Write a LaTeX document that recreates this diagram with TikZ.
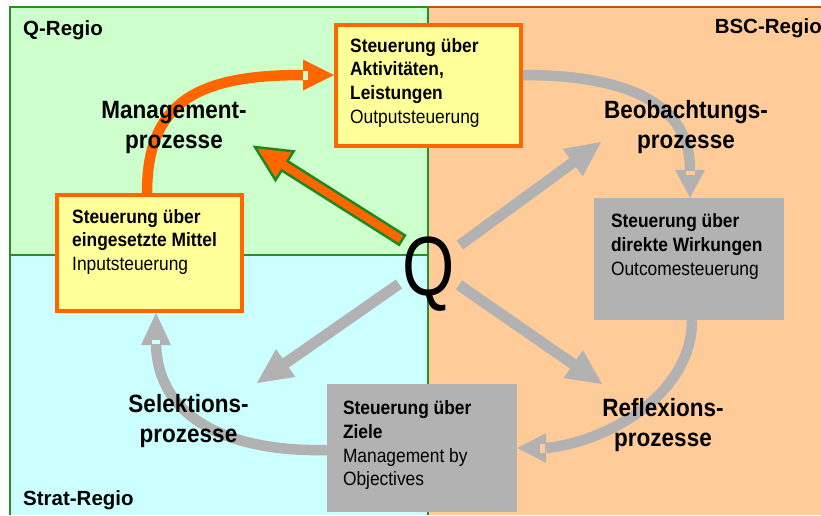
\documentclass[tikz,border=0pt]{standalone}
\usepackage{fontspec}
\setmainfont{Liberation Sans}
\newfontfamily\narrowsans[FakeStretch=0.9]{Liberation Sans}
\newfontfamily\bigqfont[FakeStretch=0.8]{Liberation Sans}
\usetikzlibrary{calc}

\definecolor{regiongreen}{HTML}{CCFFCC}
\definecolor{regioncyan}{HTML}{CCFFFF}
\definecolor{regionorange}{HTML}{FFCC99}
\definecolor{framegreen}{HTML}{2A8C2A}
\definecolor{framebrown}{HTML}{B4561E}
\definecolor{boxyellow}{HTML}{FFFF99}
\definecolor{boxorange}{HTML}{FF6600}
\definecolor{softgray}{HTML}{B2B2B2}
\definecolor{arrowgreen}{HTML}{1E8A1E}

% straight block arrow: shaft half width 5.5, head 35 long and 34 wide
\newcommand\widearrow[3][]{%
  \coordinate (wa-base) at ($(#3)!35pt!(#2)$);
  \path[#1] ($(#2)!5.5pt!90:(#3)$) -- ($(wa-base)!5.5pt!90:(#3)$)
    -- ($(wa-base)!17pt!90:(#3)$) -- (#3) -- ($(wa-base)!17pt!-90:(#3)$)
    -- ($(wa-base)!5.5pt!-90:(#3)$) -- ($(#2)!5.5pt!-90:(#3)$) -- cycle;}

\tikzset{
  frameline/.style={line width=1.5pt},
  reglabel/.style={font=\bfseries\fontsize{20.5}{24}\selectfont, inner sep=0pt},
  ybox/.style={draw=boxorange, fill=boxyellow, line width=4pt, inner sep=0pt},
  gbox/.style={fill=softgray, inner sep=0pt},
  boxtext/.style={font=\narrowsans\fontsize{19.3}{23.7}\selectfont, inner sep=0pt, anchor=base west},
  proclabel/.style={font=\narrowsans\bfseries\fontsize{25}{30.5}\selectfont, inner sep=0pt, anchor=base},
  bendshaft/.style={line width=10.5pt},
}

\begin{document}
\begin{tikzpicture}[x=1pt,y=-1pt]
\useasboundingbox (0,0) rectangle (821,515);
\fill[white] (0,0) rectangle (821,515);

% the three regions
\fill[regiongreen] (10,7) rectangle (428,255);
\fill[regioncyan] (10,255) rectangle (428,515);
\fill[regionorange] (428,7) rectangle (821,515);
\draw[framegreen, frameline] (10,515) -- (10,7) -- (428,7);
\draw[framebrown, frameline] (428,7) -- (821,7);
\draw[framegreen, frameline] (428,7) -- (428,515);
\draw[framegreen, frameline] (10,255) -- (428,255);

\node[reglabel, anchor=base west] (qregio) at (23,35) {Q-Regio};
\node[reglabel, anchor=base east] (bscregio) at (822,33) {BSC-Regio};
\node[reglabel, anchor=base west] (stratregio) at (23,505) {Strat-Regio};

% steering boxes
\node[ybox, minimum width=185, minimum height=121] (tbox) at (428.5,85.5) {};
\node[ybox, minimum width=185, minimum height=116] (lbox) at (149.5,253) {};
\node[gbox, minimum width=190, minimum height=122] (rbox) at (689,259) {};
\node[gbox, minimum width=190, minimum height=128] (bbox) at (422,448) {};

\node[boxtext] (ttext) at ($(tbox.north west)+(16,29)$)
  {\begin{tabular}[t]{@{}l@{}}\textbf{Steuerung über}\\\textbf{Aktivitäten,}\\\textbf{Leistungen}\\Outputsteuerung\end{tabular}};
\node[boxtext] (ltext) at ($(lbox.north west)+(17,30)$)
  {\begin{tabular}[t]{@{}l@{}}\textbf{Steuerung über}\\\textbf{eingesetzte Mittel}\\Inputsteuerung\end{tabular}};
\node[boxtext] (rtext) at ($(rbox.north west)+(17,30)$)
  {\begin{tabular}[t]{@{}l@{}}\textbf{Steuerung über}\\\textbf{direkte Wirkungen}\\Outcomesteuerung\end{tabular}};
\node[boxtext] (btext) at ($(bbox.north west)+(16,31)$)
  {\begin{tabular}[t]{@{}l@{}}\textbf{Steuerung über}\\\textbf{Ziele}\\Management by\\Objectives\end{tabular}};

% bent arrows between the boxes
\coordinate (oTip) at ($(tbox.west)+(0,-10.5)$);
\draw[boxorange, bendshaft] ($(lbox.north)+(-2.5,0)$) .. controls +(0,-93) and +(-103,0) .. ($(oTip)+(-31,0)$);
\fill[boxorange] ($(oTip)+(-31,-15.5)$) -- (oTip) -- ($(oTip)+(-31,15.5)$) -- cycle;
\fill[regiongreen] ($(oTip)+(-31,-4)$) rectangle ($(oTip)+(-26,4.5)$);

\coordinate (gTipA) at ($(rbox.north)+(1,0)$);
\draw[softgray, bendshaft] ($(tbox.east)+(0,-10.5)$) .. controls +(97,0) and +(0,-70) .. ($(gTipA)+(0,-28)$);
\fill[softgray] ($(gTipA)+(-15,-28)$) -- (gTipA) -- ($(gTipA)+(15,-28)$) -- cycle;
\fill[regionorange] ($(gTipA)+(-4.5,-27)$) rectangle ($(gTipA)+(4.5,-23)$);

\coordinate (gTipB) at (bbox.east);
\draw[softgray, bendshaft] ($(rbox.south)+(3,0)$) .. controls +(0,75) and +(60,-6) .. ($(gTipB)+(29,0)$);
\fill[softgray] ($(gTipB)+(29,-15)$) -- (gTipB) -- ($(gTipB)+(29,15)$) -- cycle;
\fill[regionorange] ($(gTipB)+(23,-4.5)$) rectangle ($(gTipB)+(28,4.5)$);

\coordinate (gTipC) at ($(lbox.south)+(6.5,0)$);
\draw[softgray, bendshaft] ($(bbox.west)+(0,2)$) .. controls +(-87,2) and +(3,80) .. ($(gTipC)+(0,32)$);
\fill[softgray] ($(gTipC)+(-15,32)$) -- (gTipC) -- ($(gTipC)+(15,32)$) -- cycle;
\fill[regioncyan] ($(gTipC)+(-4,27)$) rectangle ($(gTipC)+(4,31)$);

% straight arrows leaving Q
\coordinate (mgTail) at (402,240); \coordinate (mgTip) at (255,147);
\coordinate (beTail) at (460,245); \coordinate (beTip) at (601,142);
\coordinate (seTail) at (399,284); \coordinate (seTip) at (257,383);
\coordinate (reTail) at (459,285); \coordinate (reTip) at (602,384);
\widearrow[fill=softgray]{beTail}{beTip}
\widearrow[fill=softgray]{seTail}{seTip}
\widearrow[fill=softgray]{reTail}{reTip}
\widearrow[fill=boxorange, draw=arrowgreen, line width=2.5pt]{mgTail}{mgTip}

% process labels
\node[proclabel] (mgmt) at (174,118) {\begin{tabular}[t]{@{}c@{}}Management-\\prozesse\end{tabular}};
\node[proclabel] (beob) at (686,118) {\begin{tabular}[t]{@{}c@{}}Beobachtungs-\\prozesse\end{tabular}};
\node[proclabel] (selek) at (188.5,412) {\begin{tabular}[t]{@{}c@{}}Selektions-\\prozesse\end{tabular}};
\node[proclabel] (refl) at (663,416) {\begin{tabular}[t]{@{}c@{}}Reflexions-\\prozesse\end{tabular}};

\node[font=\bigqfont\fontsize{84}{84}\selectfont, inner sep=0pt, anchor=base] (q) at (429,295) {Q};
\end{tikzpicture}
\end{document}
